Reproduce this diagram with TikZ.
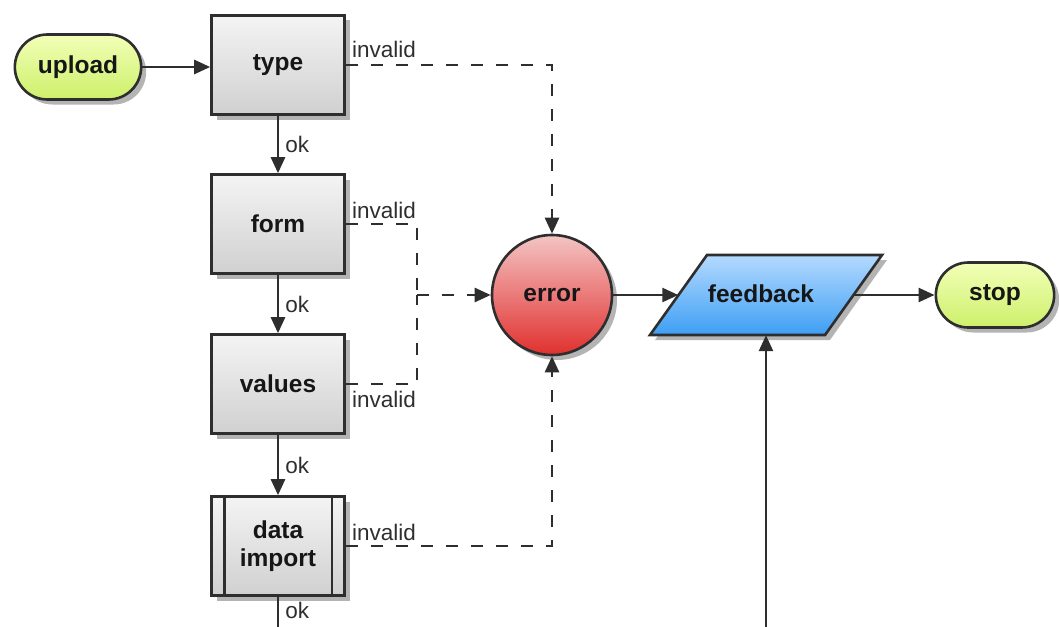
\documentclass[tikz,border=0pt]{standalone}
\usepackage{fontspec}
\setmainfont{Liberation Sans}
\usetikzlibrary{arrows.meta,calc,shadows,shapes.misc}

\definecolor{ink}{HTML}{2E2E2E}
\definecolor{txt}{HTML}{161616}
\definecolor{shadowgray}{HTML}{B4B4B4}
\definecolor{boxtop}{HTML}{F4F4F4}
\definecolor{boxbot}{HTML}{D0D0D0}
\definecolor{termtop}{HTML}{F2FFB8}
\definecolor{termbot}{HTML}{CDF06A}
\definecolor{errtop}{HTML}{F4C4C4}
\definecolor{errbot}{HTML}{E0302E}
\definecolor{iotop}{HTML}{B4DAFF}
\definecolor{iobot}{HTML}{3E9EF4}

\begin{document}
\begin{tikzpicture}[x=1pt,y=-1pt,
  shadowed/.style={general shadow={fill=shadowgray, shadow xshift=5pt, shadow yshift=-5pt}},
  bold/.style={font=\bfseries\fontsize{24.5}{27}\selectfont, text=txt},
  lbl/.style={font=\fontsize{22.5}{25}\selectfont, text=ink, inner sep=0pt},
  stepbox/.style={rectangle, draw=ink, line width=2.6pt, top color=boxtop, bottom color=boxbot,
    minimum width=133pt, minimum height=99pt, shadowed, bold, align=center},
  terminal/.style={rounded rectangle, draw=ink, line width=2.6pt, top color=termtop, bottom color=termbot,
    minimum height=65pt, shadowed, bold},
  flow/.style={draw=ink, line width=2.6pt, -{Triangle[length=16pt,width=14pt]}},
  flowplain/.style={draw=ink, line width=2.6pt},
  fail/.style={flow, dash pattern=on 12pt off 13pt},
  failplain/.style={flowplain, dash pattern=on 12pt off 13pt}
]
\useasboundingbox (0,0) rectangle (1059,626);

% start / end terminals
\node[terminal, minimum width=133pt] (upload) at (78,67) {upload};
\node[terminal, minimum width=125pt] (stop) at (995,295) {stop};

% validation steps
\node[stepbox] (type)   at (278,65)  {type};
\node[stepbox] (form)   at (278,224) {form};
\node[stepbox] (values) at (278,384) {values};
\node[stepbox] (import) at (278,546) {data\\[1pt]import};
\draw[ink, line width=2.6pt]
  ([xshift=14pt]import.north west) -- ([xshift=14pt]import.south west)
  ([xshift=-14pt]import.north east) -- ([xshift=-14pt]import.south east);

% error collector
\node[circle, draw=ink, line width=2.6pt, top color=errtop, bottom color=errbot,
  minimum size=120pt, inner sep=0pt, shadowed, bold] (error) at (552,295) {error};

% feedback (data / output parallelogram)
\coordinate (fbc) at (766,295);
\fill[shadowgray] ($(fbc)+(-111,45)$) -- ($(fbc)+(-54,-35)$) -- ($(fbc)+(121,-35)$) -- ($(fbc)+(64,45)$) -- cycle;
\shade[top color=iotop, bottom color=iobot, draw=ink, line width=2.6pt]
  ($(fbc)+(-116,40)$) -- ($(fbc)+(-59,-40)$) -- ($(fbc)+(116,-40)$) -- ($(fbc)+(59,40)$) -- cycle;
\node[rectangle, minimum width=175pt, minimum height=80pt, inner sep=0pt, bold] (fb) at (fbc) {\raisebox{3pt}{feedback}\hspace*{10pt}};

% main flow
\draw[flow] (upload.east) -- (upload.east -| type.west);
\draw[flow] (type) -- node[lbl, right=6pt] {ok} (form);
\draw[flow] (form) -- node[lbl, right=6pt] {ok} (values);
\draw[flow] (values) -- node[lbl, right=6pt] {ok} (import);
\coordinate (exit) at (278,628);
\draw[flowplain] (import) -- node[lbl, right=6pt, yshift=2pt] {ok} (exit);
\draw[flow] (error) -- (fb.west);
\draw[flow] (fb.east) -- (stop);
\coordinate (back) at (766,628);
\draw[flow] (back) -- (fb.south);

% rejection paths
\coordinate (join) at (417,295);
\draw[fail] (type.east) -| (error.north);
\draw[failplain] (form.east) -| (join);
\draw[failplain] (values.east) -| (join);
\draw[fail] (join) -- (error.west);
\draw[fail] (import.east) -| (error.south);

\node[lbl, anchor=base west] (i1) at ([xshift=6pt,yshift=8pt]type.east) {invalid};
\node[lbl, anchor=base west] (i2) at ([xshift=6pt,yshift=6pt]form.east) {invalid};
\node[lbl, anchor=base west] (i3) at ([xshift=6pt,yshift=-23pt]values.east) {invalid};
\node[lbl, anchor=base west] (i4) at ([xshift=6pt,yshift=6pt]import.east) {invalid};
\end{tikzpicture}
\end{document}
